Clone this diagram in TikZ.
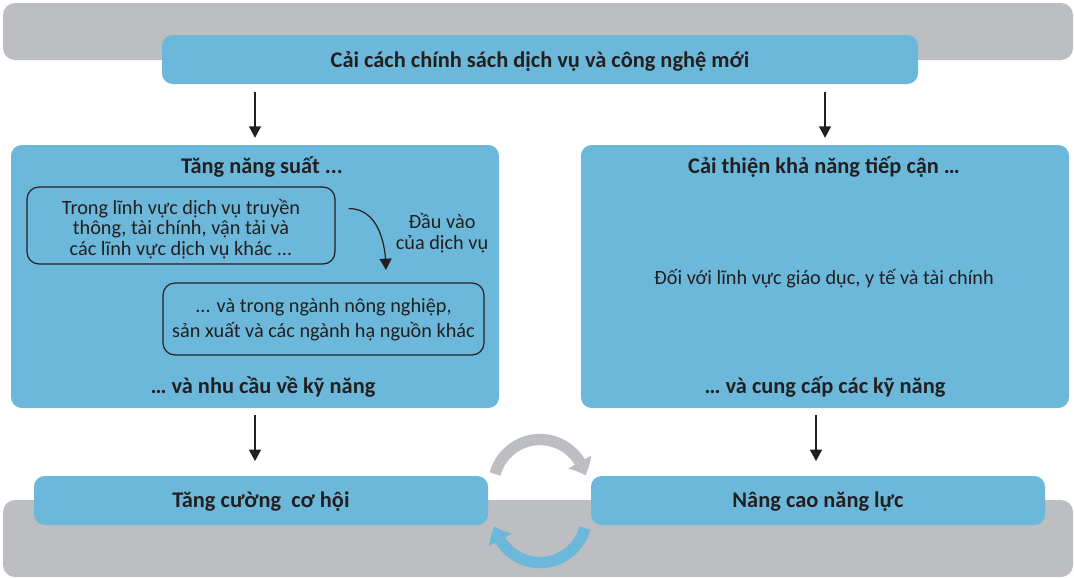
\documentclass[tikz,border=0pt]{standalone}
\usepackage{fontspec}
\setmainfont{Carlito}
\usetikzlibrary{arrows.meta,bending}
\definecolor{bandgray}{HTML}{BCBEC1}
\definecolor{boxblue}{HTML}{6CB8DA}
\definecolor{ink}{HTML}{231F20}
\tikzset{
  band/.style={fill=bandgray, rounded corners=9pt},
  bluebox/.style={fill=boxblue, draw=none, rounded corners=8pt, inner sep=0pt},
  innerbox/.style={draw=ink, line width=0.9pt, rounded corners=9pt, inner sep=0pt},
  ttl/.style={font=\bfseries\fontsize{16.8}{19}\selectfont, text=ink, inner sep=0pt, anchor=base},
  bodytxt/.style={font=\fontsize{15.2}{15.5}\selectfont, text=ink, inner sep=0pt, align=center},
  flow/.style={draw=ink, line width=0.9pt, -{Triangle[width=9pt,length=8.5pt]}},
  cyc/.style={line width=8.5pt, -{Triangle[width=19pt,length=11pt,bend]}},
}
\begin{document}
\begin{tikzpicture}[x=0.75pt,y=-0.75pt]
\useasboundingbox (0,0) rectangle (1074,578);
% background bands
\fill[band] (3,3) rectangle (1073,60);
\fill[band] (3,500) rectangle (1073,577);
% cycle arrows
\draw[cyc, bandgray] (540,486) ++(195:46.5) arc[start angle=195, end angle=347, radius=46.5];
\draw[cyc, boxblue] (540,516) ++(15:46.5) arc[start angle=15, end angle=167, radius=46.5];
% boxes
\node[bluebox, minimum width=756*0.75pt, minimum height=49*0.75pt] (topbox) at (540,59.5) {};
\node[bluebox, minimum width=488*0.75pt, minimum height=263*0.75pt] (leftbox) at (255,276.5) {};
\node[bluebox, minimum width=488*0.75pt, minimum height=263*0.75pt] (rightbox) at (825,276.5) {};
\node[bluebox, minimum width=454*0.75pt, minimum height=49*0.75pt] (oppbox) at (261,500.5) {};
\node[bluebox, minimum width=454*0.75pt, minimum height=49*0.75pt] (capbox) at (818,500.5) {};
\node[innerbox, minimum width=308*0.75pt, minimum height=77*0.75pt] (svcbox) at (181,225.5) {};
\node[innerbox, minimum width=321*0.75pt, minimum height=72*0.75pt] (agrbox) at (323.5,319) {};
% texts
\node[ttl] (toptxt) at (540,67) {Cải cách chính sách dịch vụ và công nghệ mới};
\node[ttl] (lt1) at (262,173) {Tăng năng suất ...};
\node[ttl] (lt2) at (263,393) {… và nhu cầu về kỹ năng};
\node[ttl] (rt1) at (824,173) {Cải thiện khả năng tiếp cận …};
\node[bodytxt, anchor=base] (rt2) at (824,284) {Đối với lĩnh vực giáo dục, y tế và tài chính};
\node[ttl] (rt3) at (825,393) {… và cung cấp các kỹ năng};
\node[bodytxt] (svctxt) at (181,229) {Trong lĩnh vực dịch vụ truyền\\thông, tài chính, vận tải và\\các lĩnh vực dịch vụ khác ...};
\node[bodytxt, font=\fontsize{15.2}{18.75}\selectfont] (agrtxt) at (323.5,320) {... và trong ngành nông nghiệp,\\sản xuất và các ngành hạ nguồn khác};
\node[bodytxt, font=\fontsize{15.2}{15.75}\selectfont] (dvtxt) at (442,233) {Đầu vào\\của dịch vụ};
\node[ttl] (opptxt) at (261,507) {Tăng cường\ \ cơ hội};
\node[ttl] (captxt) at (818,507) {Nâng cao năng lực};
% connectors
\coordinate (rx) at (816,0);
\draw[flow, shorten <=6pt, shorten >=5.25pt] (topbox.south -| leftbox.north) -- (leftbox.north);
\draw[flow, shorten <=6pt, shorten >=5.25pt] (topbox.south -| rightbox.north) -- (rightbox.north);
\draw[flow, shorten <=5.25pt, shorten >=11pt] (leftbox.south) -- (leftbox.south |- oppbox.north);
\draw[flow, shorten <=5.25pt, shorten >=11pt] (rightbox.south -| rx) -- (capbox.north -| rx);
\draw[draw=ink, line width=0.9pt, -{Triangle[width=9pt,length=8.5pt]}] (svcbox.east) ++(13,-17) coordinate (cs)
  .. controls +(28,0) and +(0,-30) .. (386,270) coordinate (ce);
\end{tikzpicture}
\end{document}
